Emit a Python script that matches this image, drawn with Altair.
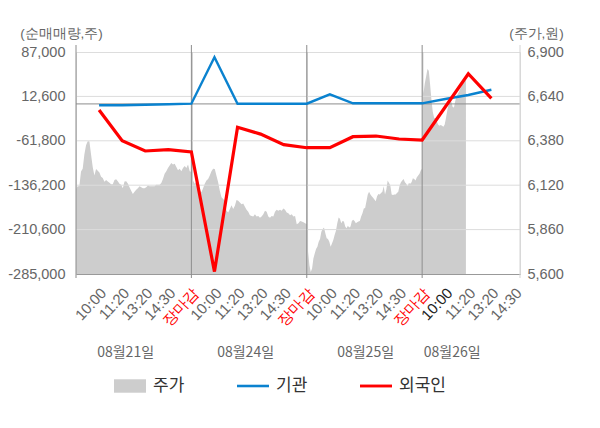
import altair as alt
import pandas as pd

FONT = "Noto Sans CJK KR"

# ---- labels ----
slot_labels = ["10:00", "11:20", "13:20", "14:30", "장마감",
               "10:00", "11:20", "13:20", "14:30", "장마감",
               "10:00", "11:20", "13:20", "14:30", "장마감",
               "10:00", "11:20", "13:20", "14:30"]
day_names = ["08월21일", "08월24일", "08월25일", "08월26일"]
day_label_at = [2.15, 7.35, 12.55, 16.3]
series_names = ["주가", "기관", "외국인"]

# ---- net buying (shares), one value per slot 1..18 ----
inst_net = [-2300, -2300, -1500, -600, 400, 78100, 400, 400, 400, 400,
            16100, 1000, 1000, 1000, 1000, 8300, 15000, 23800]
foreign_net = [-10200, -61600, -78900, -76700, -80600, -281000, -39200, -50600, -68300, -73400,
               -73400, -54900, -53800, -58800, -60500, -5200, 50600, 9400]

left_ticks = [-285000, -210600, -136200, -61800, 12600, 87000]
right_ticks = [5600, 5860, 6120, 6380, 6640, 6900]

# ---- intraday price (won) ----
price_d1 = [6098, 6114, 6114, 6200, 6216, 6300, 6354, 6378, 6378, 6300, 6227, 6177, 6215, 6205,
            6195, 6170, 6162, 6140, 6150, 6141, 6135, 6125, 6125, 6150, 6155, 6143, 6128, 6122,
            6102, 6141, 6143, 6130, 6108, 6088, 6069, 6082, 6094, 6102, 6114, 6108, 6102, 6102,
            6108, 6118, 6114, 6114, 6114, 6114, 6122, 6122, 6122, 6133, 6157, 6187, 6201, 6221,
            6236, 6250, 6241, 6246, 6227, 6207, 6216, 6201, 6221, 6233, 6221, 6241, 6201, 6197]
price_d2 = [6160, 6147, 6128, 6140, 6110, 6088, 6079, 6102, 6128, 6147, 6157, 6177, 6201, 6216,
            6215, 6175, 6138, 6088, 6049, 6039, 6029, 5970, 5960, 5980, 6003, 5980, 6000, 6033,
            6029, 6019, 6009, 6013, 5994, 5976, 5964, 5944, 5940, 5936, 5950, 5936, 5940, 5930,
            5936, 5950, 5970, 5964, 5936, 5930, 5940, 5936, 5964, 5976, 5970, 5976, 5970, 5984,
            5976, 5960, 5956, 5944, 5950, 5936, 5940, 5891, 5897, 5911, 5907, 5903, 5897, 5891]
price_d3 = [5799, 5730, 5651, 5612, 5632, 5691, 5720, 5746, 5760, 5789, 5805, 5848, 5864, 5872,
            5838, 5809, 5805, 5789, 5760, 5779, 5799, 5828, 5854, 5897, 5931, 5923, 5897, 5911,
            5907, 5878, 5868, 5882, 5872, 5878, 5911, 5917, 5911, 5897, 5903, 5907, 5911, 5936,
            5956, 5983, 5987, 6026, 6065, 6081, 6065, 6056, 6046, 6036, 6026, 6056, 6069, 6065,
            6075, 6081, 6114, 6065, 6095, 6147, 6133, 6118, 6065, 6062, 6065, 6065, 6075, 6081,
            6118, 6138, 6147, 6157, 6138, 6128, 6114, 6133, 6128, 6138, 6161, 6157, 6147, 6167,
            6177, 6187, 6207, 6216]
price_d4 = [6638, 6658, 6717, 6756, 6800, 6790, 6710, 6620, 6550, 6515, 6510, 6495, 6475, 6468,
            6472, 6468, 6462, 6475, 6515, 6560, 6595, 6615, 6608, 6578, 6575, 6615, 6643, 6655,
            6670, 6690, 6705, 6720, 6730, 6735]

SLOTS_PER_DAY = 5
X_MAX = 19.24

# ---- tables ----
price_rows = []
for d, vals in enumerate([price_d1, price_d2, price_d3]):
    n = len(vals)
    for i, v in enumerate(vals):
        price_rows.append({"x": SLOTS_PER_DAY * d + SLOTS_PER_DAY * i / (n - 1), "price": v})
step = SLOTS_PER_DAY / (len(price_d3) - 1)
for i, v in enumerate(price_d4):
    price_rows.append({"x": SLOTS_PER_DAY * 3 + i * step, "price": v})
price_df = pd.DataFrame(price_rows)

slots = list(range(1, len(inst_net) + 1))
inst_df = pd.DataFrame({"x": slots, "v": inst_net})
foreign_df = pd.DataFrame({"x": slots, "v": foreign_net})
grid_df = pd.DataFrame({"v": left_ticks[1:-1]})
zero_df = pd.DataFrame({"v": [0]})
day_edge_df = pd.DataFrame({"x": [SLOTS_PER_DAY * d for d in range(len(day_names))]})
right_edge_df = pd.DataFrame({"x": [X_MAX]})
day_lbl_df = pd.DataFrame({"x": day_label_at, "label": day_names})
legend_df = pd.DataFrame({"s": series_names, "x": [X_MAX * 10] * 3})

label_arr = "[" + ",".join("'" + s + "'" for s in slot_labels) + "]"
num_expr = "(datum.value < 0 ? '-' : '') + format(abs(datum.value), ',.0f')"

x_scale = alt.Scale(domain=[0, X_MAX], nice=False, zero=False)
x_axis = alt.Axis(
    values=list(range(1, len(slot_labels) + 1)),
    labelExpr=label_arr + "[datum.value - 1]",
    labelAngle=-47, labelAlign="right", labelBaseline="middle",
    labelPadding=16, labelOffset=4, ticks=False, grid=False,
    domainColor="#999999", title=None, labelOverlap=False, labelFlush=False,
    labelBound=False, labelFontSize=15,
    labelColor={"condition": [{"test": "datum.value % 5 === 0", "value": "#ff0000"},
                              {"test": "datum.value === 16", "value": "#222222"}],
                "value": "#666666"},
)
X_ENC = alt.X("x:Q", scale=x_scale, axis=x_axis)

left_scale = alt.Scale(domain=[left_ticks[0], left_ticks[-1]], nice=False, zero=False)
left_axis = alt.Axis(
    orient="left", values=left_ticks, labelExpr=num_expr, grid=False, ticks=False, domain=False,
    labelPadding=11, labelFontSize=14.5, labelColor="#666666",
    title="(순매매량,주)", titleAngle=0, titleX=-15, titleY=-19, titleAlign="center",
    titleBaseline="middle", titleFontSize=13.5, titleFontWeight="normal", titleColor="#666666",
)
Y_LEFT = alt.Y("v:Q", scale=left_scale, axis=left_axis)

right_axis = alt.Axis(
    orient="right", values=right_ticks, labelExpr=num_expr, grid=False, ticks=False, domain=False,
    labelPadding=7, labelFontSize=14.5, labelColor="#666666",
    title="(주가,원)", titleAngle=0, titleX=16, titleY=-19, titleAlign="center",
    titleBaseline="middle", titleFontSize=13.5, titleFontWeight="normal", titleColor="#666666",
)

area = alt.Chart(price_df).mark_area(color="#cdcdcd", clip=True).encode(
    x=X_ENC,
    y=alt.Y("price:Q", scale=alt.Scale(domain=[right_ticks[0], right_ticks[-1]], nice=False, zero=False),
            axis=right_axis),
)

grid = alt.Chart(grid_df).mark_rule(color="#dcdcdc", strokeWidth=1).encode(y=Y_LEFT)
zero = alt.Chart(zero_df).mark_rule(color="#8c8c8c", strokeWidth=1).encode(y=Y_LEFT)
edges = alt.Chart(day_edge_df).mark_rule(color="#8c8c8c", strokeWidth=1).encode(
    x=X_ENC, y=alt.value(-7), y2=alt.value(226))
redge = alt.Chart(right_edge_df).mark_rule(color="#d4d4d4", strokeWidth=1).encode(
    x=X_ENC, y=alt.value(-7), y2=alt.value(226))

inst_line = alt.Chart(inst_df).mark_line(color="#0a82cf", strokeWidth=2.4).encode(x=X_ENC, y=Y_LEFT)
foreign_line = alt.Chart(foreign_df).mark_line(color="#ff0000", strokeWidth=3.2).encode(x=X_ENC, y=Y_LEFT)

day_text = alt.Chart(day_lbl_df).mark_text(font=FONT, fontSize=14, color="#666666").encode(
    x=X_ENC, y=alt.value(301), text="label:N")

leg = alt.Legend(orient="none", legendX=38, legendY=318, direction="horizontal", title=None,
                 labelFont=FONT, labelFontSize=17, labelColor="#333333", labelOffset=7,
                 columnPadding=52, padding=0, symbolStrokeWidth=0, symbolSize=1024)
legend_pts = alt.Chart(legend_df).mark_point(filled=True, size=1024, opacity=1, clip=True).encode(
    x=X_ENC, y=alt.value(0),
    color=alt.Color("s:N", scale=alt.Scale(domain=series_names, range=["#cdcdcd", "#0a82cf", "#ff0000"]),
                    legend=leg),
    shape=alt.Shape("s:N", scale=alt.Scale(domain=series_names,
                                           range=["M-1,-0.42H1V0.42H-1Z",
                                                  "M-1,-0.08H1V0.08H-1Z",
                                                  "M-1,-0.09H1V0.09H-1Z"]),
                    legend=leg),
)

inner = alt.layer(grid, zero, edges, redge, inst_line, foreign_line, day_text, legend_pts)

chart = alt.layer(area, inner).resolve_scale(y="independent").properties(
    width=444, height=222,
    padding={"left": 68, "top": 44, "right": 72, "bottom": 146},
    autosize=alt.AutoSizeParams(type="none"),
).configure_view(fill="#f4f4f4", stroke="transparent").configure_axis(
    labelFont=FONT, titleFont=FONT
).configure(background="#ffffff")

chart.save("out.html", embed_options={"renderer": "svg", "actions": False})
